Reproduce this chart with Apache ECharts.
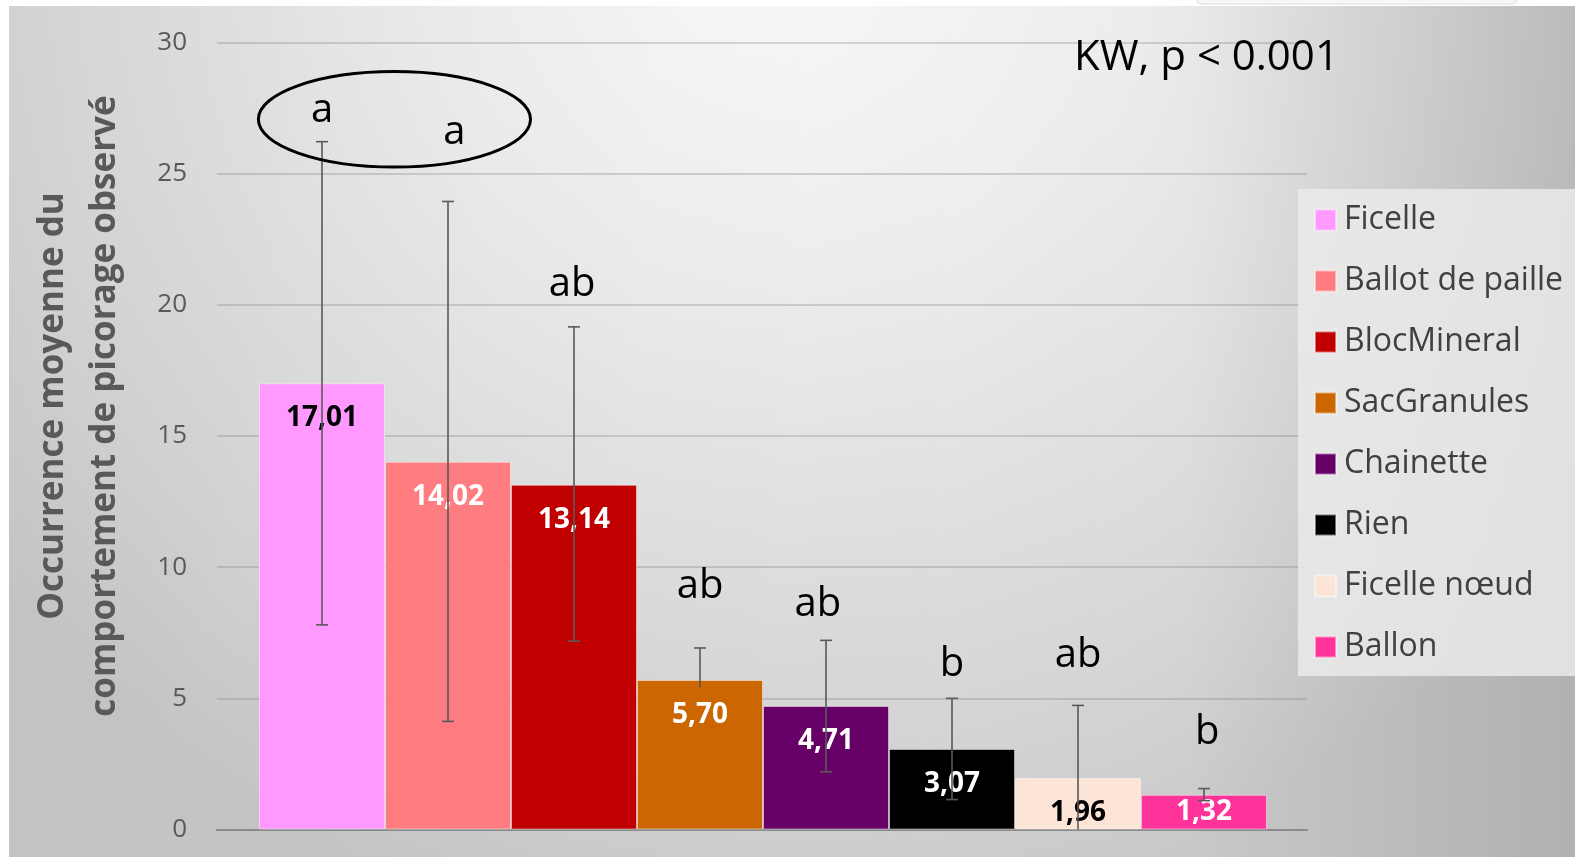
<!DOCTYPE html>
<html>
<head>
<meta charset="utf-8">
<script src="https://cdn.jsdelivr.net/npm/echarts@6/dist/echarts.min.js"></script>
<style>
html,body{margin:0;padding:0;background:#ffffff;}
#chart{width:1575px;height:857px;}
</style>
</head>
<body>
<div id="chart"></div>
<script>
// ---- data ----
const categories = ['Ficelle', 'Ballot de paille', 'BlocMineral', 'SacGranules', 'Chainette', 'Rien', 'Ficelle nœud', 'Ballon'];
const means = [17.01, 14.02, 13.14, 5.70, 4.71, 3.07, 1.96, 1.32];
const errUpper = [26.22, 23.94, 19.16, 6.92, 7.21, 5.00, 4.73, 1.56];
const errLower = [7.80, 4.12, 7.18, 5.41, 2.20, 1.14, 0, 1.10];
const lowerCap = [1, 1, 1, 0, 1, 1, 0, 1];
const groupLetters = ['a', 'a', 'ab', 'ab', 'ab', 'b', 'ab', 'b'];
const letterLevels = [27.42, 26.57, 20.78, 9.26, 8.57, 6.27, 6.61, 3.70];
const letterShift = [0, 0.05, -0.015, 0, -0.065, 0, 0, 0.025];
const yTicks = [0, 5, 10, 15, 20, 25, 30];
const axisTitle = 'Occurrence moyenne du\ncomportement de picorage observé';
const testNote = 'KW, p < 0.001';

// ---- styles ----
const barColors = ['#FF99FF', '#FF7C80', '#C00000', '#CC6600', '#660066', '#000000', '#FCE4D6', '#FF3399'];
const labelColors = ['#000000', '#ffffff', '#ffffff', '#ffffff', '#ffffff', '#ffffff', '#000000', '#ffffff'];
const FONT = 'Open Sans';

const chart = echarts.init(document.getElementById('chart'), null, {renderer: 'canvas'});

const fmt = v => Number(v).toFixed(2).replace('.', ',');

const barSeries = categories.map((name, i) => ({
  name: name,
  type: 'bar',
  xAxisIndex: 1,
  yAxisIndex: 1,
  stack: 'all',
  barCategoryGap: '0%',
  barWidth: '100%',
  data: means.map((v, j) => (j === i ? v : '-')),
  itemStyle: {color: barColors[i], borderColor: 'rgba(255,255,255,0.45)', borderWidth: 1},
  label: {
    show: true,
    position: i === categories.length - 1 ? 'inside' : 'insideTop',
    distance: 21,
    formatter: p => fmt(p.value),
    color: labelColors[i],
    fontFamily: FONT,
    fontWeight: 'bold',
    fontSize: 28
  },
  emphasis: {disabled: true},
  z: 2
}));

const errorSeries = {
  type: 'custom',
  xAxisIndex: 1,
  yAxisIndex: 1,
  z: 4,
  silent: true,
  data: categories.map((c, i) => [i, errLower[i], errUpper[i], lowerCap[i]]),
  renderItem: function (params, api) {
    const i = api.value(0);
    const hi = api.coord([i, api.value(2)]);
    const lo = api.coord([i, api.value(1)]);
    const cap = 6;
    const st = {stroke: '#595959', lineWidth: 1.6};
    const children = [
      {type: 'line', shape: {x1: hi[0], y1: hi[1], x2: lo[0], y2: lo[1]}, style: st},
      {type: 'line', shape: {x1: hi[0] - cap, y1: hi[1], x2: hi[0] + cap, y2: hi[1]}, style: st}
    ];
    if (api.value(3)) {
      children.push({type: 'line', shape: {x1: lo[0] - cap, y1: lo[1], x2: lo[0] + cap, y2: lo[1]}, style: st});
    }
    return {type: 'group', children: children};
  }
};

const letterSeries = {
  type: 'custom',
  xAxisIndex: 1,
  yAxisIndex: 1,
  z: 5,
  silent: true,
  data: categories.map((c, i) => [i, letterLevels[i]]),
  renderItem: function (params, api) {
    const idx = params.dataIndex;
    const p = api.coord([api.value(0), api.value(1)]);
    const w = api.size([1, 0])[0];
    return {
      type: 'text',
      x: p[0] + letterShift[idx] * w,
      y: p[1],
      style: {
        text: groupLetters[idx],
        fill: '#000000',
        font: '40px "' + FONT + '"',
        textAlign: 'center',
        textVerticalAlign: 'middle'
      }
    };
  }
};

const option = {
  animation: false,
  backgroundColor: 'transparent',
  graphic: [
    {
      type: 'rect', z: -10, silent: true,
      shape: {x: 9, y: 6, width: 1566, height: 851},
      style: {
        fill: new echarts.graphic.RadialGradient(760, -60, 1000, [
          {offset: 0, color: '#fbfbfb'},
          {offset: 0.35, color: '#eeeeee'},
          {offset: 0.8, color: '#d6d6d6'},
          {offset: 1, color: '#c9c9c9'}
        ], true)
      }
    },
    {
      type: 'rect', z: -9, silent: true,
      shape: {x: 9, y: 6, width: 1566, height: 851},
      style: {
        fill: new echarts.graphic.LinearGradient(0, 0, 1, 0, [
          {offset: 0, color: 'rgba(0,0,0,0.03)'},
          {offset: 0.75, color: 'rgba(0,0,0,0)'},
          {offset: 1, color: 'rgba(0,0,0,0.12)'}
        ])
      }
    },
    {
      type: 'rect', z: -8, silent: true,
      shape: {x: 1197, y: -10, width: 320, height: 14, r: 4},
      style: {fill: '#f7f7f7', stroke: '#dedede', lineWidth: 1}
    },
    {
      type: 'text', z: 10, silent: true,
      x: 79, y: 406, rotation: Math.PI / 2,
      style: {
        text: axisTitle,
        fill: '#595959',
        font: 'bold 35px "' + FONT + '"',
        lineHeight: 52,
        textAlign: 'center',
        textVerticalAlign: 'middle'
      }
    },
    {
      type: 'text', z: 10, silent: true,
      x: 1074, y: 58,
      style: {
        text: testNote,
        fill: '#000000',
        font: '42px "' + FONT + '"',
        textAlign: 'left',
        textVerticalAlign: 'middle'
      }
    }
  ],
  legend: {
    orient: 'vertical',
    left: 1298,
    top: 189,
    padding: [11, 30, 9, 16],
    backgroundColor: 'rgba(236,236,236,0.82)',
    itemWidth: 21,
    itemHeight: 21,
    itemGap: 21,
    icon: 'rect',
    selectedMode: false,
    data: categories,
    textStyle: {
      color: '#404040',
      fontFamily: FONT,
      fontSize: 32,
      lineHeight: 40,
      padding: [0, 0, 0, 3]
    }
  },
  grid: [
    {left: 217, right: 268, top: 42.5, bottom: 27.5, containLabel: false},
    {left: 259, right: 308, top: 42.5, bottom: 27.5, containLabel: false}
  ],
  xAxis: [
    {
      type: 'value', gridIndex: 0, min: 0, max: 1,
      axisLine: {show: true, onZero: false, lineStyle: {color: '#8a8a8a', width: 2}},
      axisTick: {show: false}, axisLabel: {show: false}, splitLine: {show: false}
    },
    {
      type: 'category', gridIndex: 1, data: categories, show: false,
      axisLine: {show: false}, axisTick: {show: false}, axisLabel: {show: false}
    }
  ],
  yAxis: [
    {
      type: 'value', gridIndex: 0,
      min: yTicks[0], max: yTicks[yTicks.length - 1], interval: yTicks[1] - yTicks[0],
      axisLine: {show: false}, axisTick: {show: false},
      axisLabel: {color: '#595959', fontFamily: FONT, fontSize: 26, margin: 30},
      splitLine: {lineStyle: {color: 'rgba(120,120,120,0.28)', width: 2}}
    },
    {
      type: 'value', gridIndex: 1,
      min: yTicks[0], max: yTicks[yTicks.length - 1], interval: yTicks[1] - yTicks[0],
      show: false, splitLine: {show: false}
    }
  ],
  series: barSeries.concat([errorSeries, letterSeries])
};

chart.setOption(option);

// ellipse around the two "a" letters, placed in data space of the bar grid
const pA = chart.convertToPixel({gridIndex: 1}, [0, 27.07]);
const pB = chart.convertToPixel({gridIndex: 1}, [1, 27.07 + 1.82]);
const catW = pB[0] - pA[0];
const ryPx = pA[1] - pB[1];
chart.setOption({
  graphic: option.graphic.concat([{
    type: 'ellipse', z: 10, silent: true,
    shape: {cx: pA[0] + 0.575 * catW, cy: pA[1], rx: 1.08 * catW, ry: ryPx},
    style: {fill: 'none', stroke: '#000000', lineWidth: 3}
  }])
});
</script>
</body>
</html>
